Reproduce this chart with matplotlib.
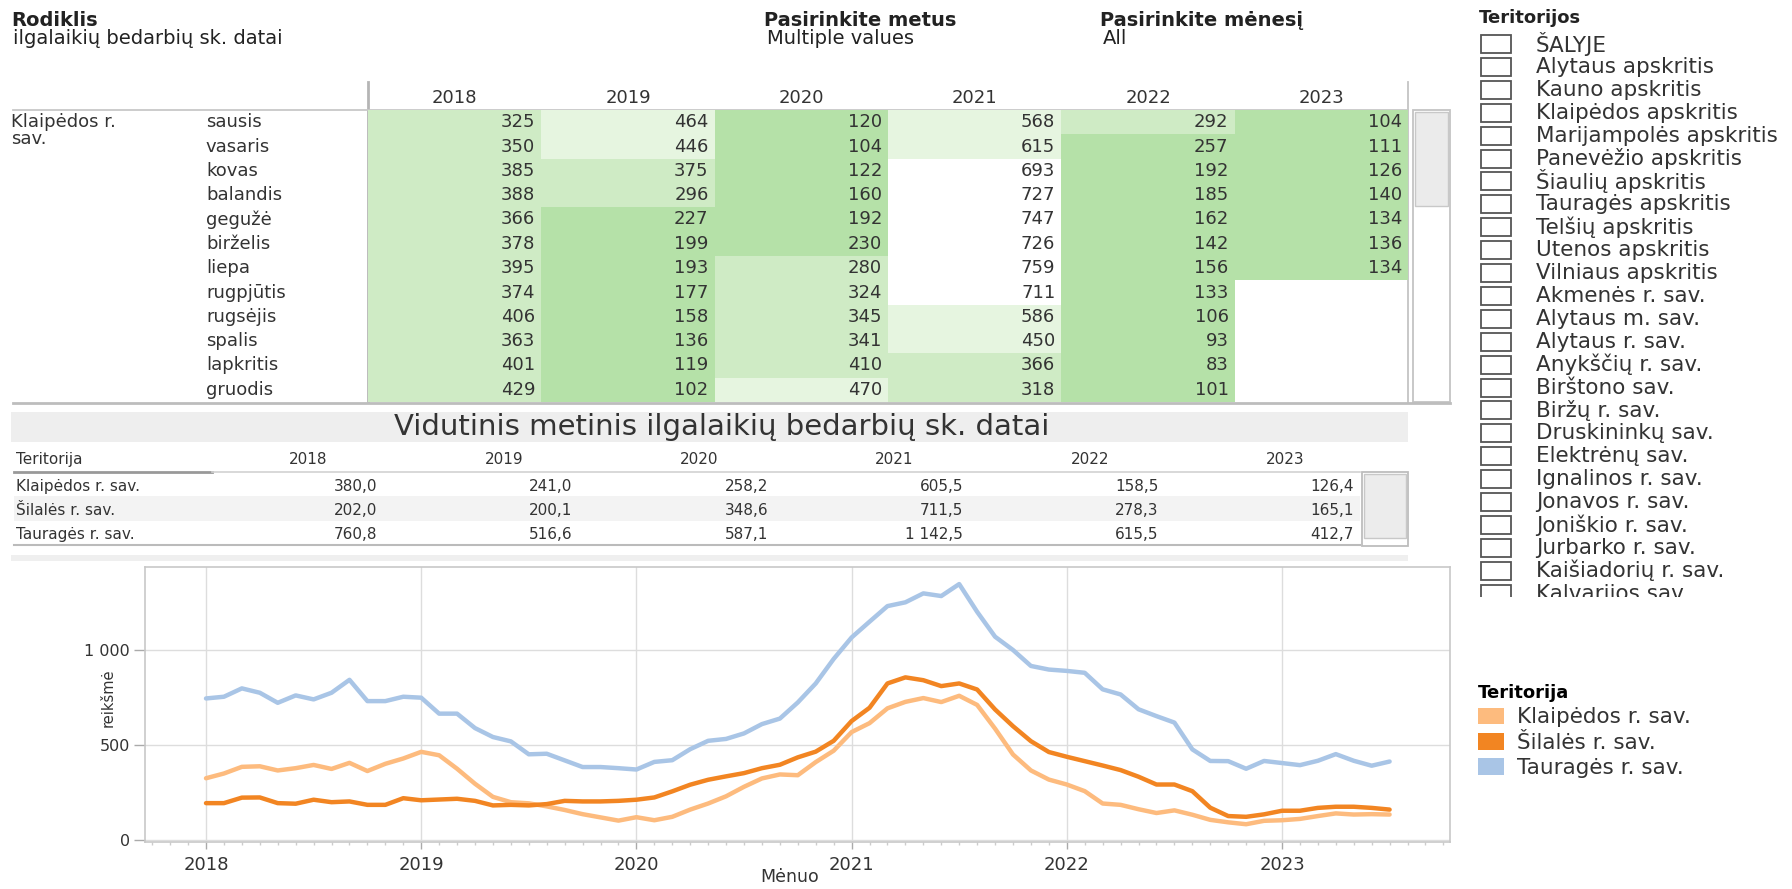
import matplotlib
matplotlib.use("Agg")
import matplotlib.pyplot as plt
from matplotlib.patches import Rectangle, Patch
from matplotlib.transforms import blended_transform_factory
from matplotlib.ticker import FixedLocator, FuncFormatter
import numpy as np

W, H = 1792, 889
DPI = 100
plt.rcParams['font.family'] = ['DejaVu Sans']

# ---------------- data ----------------
years = [2018, 2019, 2020, 2021, 2022, 2023]
months = ['sausis', 'vasaris', 'kovas', 'balandis', 'gegužė', 'birželis',
          'liepa', 'rugpjūtis', 'rugsėjis', 'spalis', 'lapkritis', 'gruodis']
series_names = ['Klaipėdos r. sav.', 'Šilalės r. sav.', 'Tauragės r. sav.']

# monthly values, January 2018 .. July 2023
klaipedos = [325, 350, 385, 388, 366, 378, 395, 374, 406, 363, 401, 429,
             464, 446, 375, 296, 227, 199, 193, 177, 158, 136, 119, 102,
             120, 104, 122, 160, 192, 230, 280, 324, 345, 341, 410, 470,
             568, 615, 693, 727, 747, 726, 759, 711, 586, 450, 366, 318,
             292, 257, 192, 185, 162, 142, 156, 133, 106, 93, 83, 101,
             104, 111, 126, 140, 134, 136, 134]
silales = [194, 194, 223, 224, 194, 191, 212, 199, 203, 185, 185, 220,
           209, 213, 217, 206, 182, 185, 182, 189, 206, 203, 203, 206,
           212, 224, 256, 291, 317, 335, 352, 378, 396, 435, 465, 522,
           626, 696, 824, 856, 841, 810, 824, 792, 687, 599, 520, 463,
           438, 415, 392, 368, 333, 292, 292, 257, 170, 126, 122, 135,
           154, 154, 169, 175, 175, 169, 160]
taurages = [745, 754, 798, 775, 722, 761, 740, 775, 843, 731, 731, 754,
            749, 665, 665, 589, 542, 519, 451, 454, 419, 384, 384, 378,
            371, 411, 420, 478, 522, 532, 561, 610, 639, 724, 824, 953,
            1066, 1149, 1231, 1251, 1298, 1284, 1347, 1201, 1070, 1000, 916, 897,
            890, 880, 793, 766, 688, 652, 618, 477, 416, 415, 375, 416,
            405, 394, 417, 452, 417, 391, 413]

# annual averages (table "Vidutinis metinis ...")
avg_klaipedos = [380.0, 241.0, 258.2, 605.5, 158.5, 126.4]
avg_silales = [202.0, 200.1, 348.6, 711.5, 278.3, 165.1]
avg_taurages = [760.8, 516.6, 587.1, 1142.5, 615.5, 412.7]

territory_options = ['ŠALYJE', 'Alytaus apskritis', 'Kauno apskritis',
                     'Klaipėdos apskritis', 'Marijampolės apskritis',
                     'Panevėžio apskritis', 'Šiaulių apskritis',
                     'Tauragės apskritis', 'Telšių apskritis',
                     'Utenos apskritis', 'Vilniaus apskritis',
                     'Akmenės r. sav.', 'Alytaus m. sav.', 'Alytaus r. sav.',
                     'Anykščių r. sav.', 'Birštono sav.', 'Biržų r. sav.',
                     'Druskininkų sav.', 'Elektrėnų sav.', 'Ignalinos r. sav.',
                     'Jonavos r. sav.', 'Joniškio r. sav.', 'Jurbarko r. sav.',
                     'Kaišiadorių r. sav.', 'Kalvarijos sav.']

# ---------------- styles ----------------
TXT = '#333333'
C_KLA = '#fdbb7e'
C_SIL = '#f28522'
C_TAU = '#a9c5e6'


def cell_color(v):
    if v < 260:
        return '#b5e1a8'
    if v < 440:
        return '#cfebc5'
    if v < 650:
        return '#e6f5e0'
    return None


def lt_fmt(v, dec=1):
    s = f"{v:,.{dec}f}"
    return s.replace(',', ' ').replace('.', ',')


fig = plt.figure(figsize=(W / DPI, H / DPI), dpi=DPI)
fig.patch.set_facecolor('white')


def px_axes(x0, y0, x1, y1, **kw):
    return fig.add_axes([x0 / W, 1 - y1 / H, (x1 - x0) / W, (y1 - y0) / H], **kw)


# overlay in pixel coordinates for decorations
ov = px_axes(0, 0, W, H)
ov.set_xlim(0, W)
ov.set_ylim(H, 0)
ov.axis('off')

# header texts
HF = 14
ov.text(11, 20, 'Rodiklis', fontsize=HF, fontweight='bold', color='#222', va='center')
ov.text(13, 38, 'ilgalaikių bedarbių sk. datai', fontsize=HF, color='#222', va='center')
ov.text(764, 20, 'Pasirinkite metus', fontsize=HF, fontweight='bold', color='#222', va='center')
ov.text(767, 38, 'Multiple values', fontsize=HF, color='#222', va='center')
ov.text(1100, 20, 'Pasirinkite mėnesį', fontsize=HF, fontweight='bold', color='#222', va='center')
ov.text(1103, 38, 'All', fontsize=HF, color='#222', va='center')

# ---------------- top highlight table ----------------
TX0, TX1, TY0, TY1 = 368, 1408, 110, 402
TF = 13
tt = px_axes(TX0, TY0, TX1, TY1)
tt.set_xlim(0, len(years))
tt.set_ylim(len(months), 0)
tt.axis('off')
for j, yr in enumerate(years):
    vals = klaipedos[j * 12:(j + 1) * 12]
    tt.text(j + 0.5, -0.5, str(yr), ha='center', va='center', fontsize=TF, color=TXT, clip_on=False)
    for i, v in enumerate(vals):
        c = cell_color(v)
        if c:
            tt.add_patch(Rectangle((j, i), 1, 1, facecolor=c, edgecolor='none'))
        tt.text(j + 1 - 0.035, i + 0.5, str(v), ha='right', va='center', fontsize=TF, color=TXT)
trans_t = blended_transform_factory(tt.transAxes, tt.transData)
for i, m in enumerate(months):
    tt.text(-0.1558, i + 0.5, m, transform=trans_t, ha='left', va='center', fontsize=TF, color=TXT)
tt.text(-0.343, 0.12, 'Klaipėdos r.\nsav.', transform=trans_t, ha='left', va='top',
        fontsize=TF, color=TXT, linespacing=0.95)

# table rules
ov.plot([TX0, TX0], [82, TY1], color='#b5b5b5', lw=2)
ov.plot([TX1, TX1], [82, TY1], color='#c4c4c4', lw=1.3)
ov.plot([13, TX1], [TY0, TY0], color='#c8c8c8', lw=1.3)
ov.plot([13, 1450], [TY1 + 1, TY1 + 1], color='#bdbdbd', lw=2)
ov.add_patch(Rectangle((1413, TY0), 37, TY1 - TY0, facecolor='white', edgecolor='#c4c4c4', lw=1.3))
ov.add_patch(Rectangle((1415, TY0 + 2), 33, 94, facecolor='#ebebeb', edgecolor='#c8c8c8', lw=1))

# ---------------- middle table ----------------
ov.add_patch(Rectangle((11, 412), 1397, 30, facecolor='#eeeeee', edgecolor='none'))
ov.text(722, 427, 'Vidutinis metinis ilgalaikių bedarbių sk. datai', fontsize=21,
        color=TXT, ha='center', va='center')

MX0, MX1, MY0, MY1 = 182, 1354, 472, 545
MF = 11
mt = px_axes(MX0, MY0, MX1, MY1)
mt.set_xlim(0, len(years))
mt.set_ylim(3, 0)
mt.axis('off')
mt.add_patch(Rectangle((-0.86, 1), 6.89, 1, facecolor='#f3f3f3', edgecolor='none', clip_on=False))
avgs = [avg_klaipedos, avg_silales, avg_taurages]
trans_m = blended_transform_factory(mt.transAxes, mt.transData)
for j, yr in enumerate(years):
    mt.text(j + 0.647, -0.5, str(yr), ha='center', va='center', fontsize=MF, color=TXT, clip_on=False)
for i, name in enumerate(series_names):
    mt.text(-0.1416, i + 0.58, name, transform=trans_m, ha='left', va='center', fontsize=MF, color=TXT)
    for j, v in enumerate(avgs[i]):
        mt.text(j + 1, i + 0.58, lt_fmt(v), ha='right', va='center', fontsize=MF, color=TXT)
mt.text(-0.1416, -0.5, 'Teritorija', transform=trans_m, ha='left', va='center', fontsize=MF, color=TXT)
ov.plot([14, 212], [MY0, MY0], color='#999999', lw=2)
ov.plot([212, 1360], [MY0, MY0], color='#d2d2d2', lw=1.2)
ov.plot([14, 1360], [MY1, MY1], color='#bbbbbb', lw=1.5)
ov.add_patch(Rectangle((1362, MY0), 46, MY1 - MY0 + 1, facecolor='white', edgecolor='#bdbdbd', lw=1.3))
ov.add_patch(Rectangle((1364, MY0 + 2), 42, 64, facecolor='#ececec', edgecolor='#c8c8c8', lw=1))

# separator band above line chart
ov.add_patch(Rectangle((11, 555), 1397, 6, facecolor='#efefef', edgecolor='none'))

# ---------------- line chart ----------------
LX0, LX1, LY0, LY1 = 145, 1450, 567, 842
ax = px_axes(LX0, LY0, LX1, LY1)
t = 2018 + np.arange(len(klaipedos)) / 12.0
ax.plot(t, taurages, color=C_TAU, lw=3.2, solid_joinstyle='round', solid_capstyle='round', zorder=3)
ax.plot(t, klaipedos, color=C_KLA, lw=3.2, solid_joinstyle='round', solid_capstyle='round', zorder=4)
ax.plot(t, silales, color=C_SIL, lw=3.2, solid_joinstyle='round', solid_capstyle='round', zorder=5)
ppy = 215.2
ax.set_xlim(2018 - (206 - LX0) / ppy, 2023 + (LX1 - 1282) / ppy)
ax.set_ylim(-(LY1 - 840) / 0.19, (840 - LY0) / 0.19)
ax.xaxis.set_major_locator(FixedLocator(years))
ax.xaxis.set_major_formatter(FuncFormatter(lambda v, p: f"{int(round(v))}"))
ax.xaxis.set_minor_locator(FixedLocator(2017 + np.arange(9, 12 * 7) / 12.0))
ax.yaxis.set_major_locator(FixedLocator([0, 500, 1000]))
ax.yaxis.set_major_formatter(FuncFormatter(lambda v, p: lt_fmt(v, 0)))
ax.grid(True, which='major', color='#dddddd', lw=1)
ax.set_axisbelow(True)
for s in ax.spines.values():
    s.set_color('#c8c8c8')
    s.set_linewidth(1.2)
ax.tick_params(axis='x', which='major', length=5, width=1, color='#aaaaaa',
               labelsize=13, labelcolor=TXT, pad=5)
ax.tick_params(axis='x', which='minor', length=2.5, width=1, color='#cccccc')
ax.tick_params(axis='y', which='major', length=8, width=1, color='#aaaaaa',
               labelsize=11.5, labelcolor=TXT, pad=3)
ax.set_ylabel('reikšmė', fontsize=10.5, color=TXT)
ax.yaxis.set_label_coords((108 - LX0) / (LX1 - LX0), (LY1 - 698) / (LY1 - LY0))
ax.yaxis.label.set_va('center')
ax.set_xlabel('Mėnuo', fontsize=12.5, color=TXT)
ax.xaxis.set_label_coords((790 - LX0) / (LX1 - LX0), -(877 - LY1) / (LY1 - LY0))
ax.xaxis.label.set_va('center')

# legend
LF = 15.5
handles = [Patch(facecolor=c, edgecolor='none') for c in (C_KLA, C_SIL, C_TAU)]
leg = fig.legend(handles, series_names, loc='upper left',
                 bbox_to_anchor=(1478 / W, 1 - 684 / H), frameon=False,
                 fontsize=LF, title='Teritorija',
                 title_fontproperties={'weight': 'bold', 'size': 13},
                 alignment='left', handlelength=1.2, handleheight=0.8,
                 handletextpad=0.6, labelspacing=0.25, borderpad=0, borderaxespad=0)
for txt in leg.get_texts():
    txt.set_color(TXT)

# ---------------- filter list (right panel) ----------------
lp = px_axes(1450, 0, W, 597)
lp.set_xlim(1450, W)
lp.set_ylim(597, 0)
lp.axis('off')
lp.text(1479, 18, 'Teritorijos', fontsize=13, fontweight='bold', color='#222', va='center')
for k, name in enumerate(territory_options):
    yc = 44 + 22.9 * k
    lp.add_patch(Rectangle((1481, yc - 9), 30, 18, fill=False, edgecolor='#555555', lw=1.3, clip_on=True))
    lp.text(1536, yc, name, fontsize=LF, color=TXT, va='center', clip_on=True)

fig.savefig('out.png', dpi=DPI, facecolor='white')
